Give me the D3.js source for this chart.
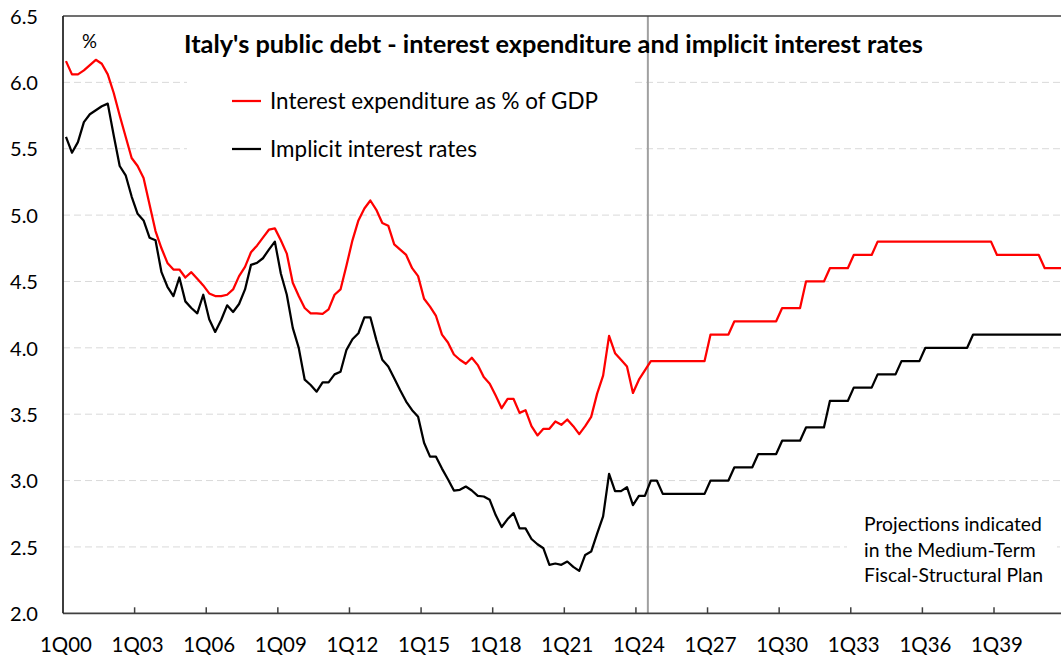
<!DOCTYPE html>
<html><head><meta charset="utf-8">
<script src="https://cdn.jsdelivr.net/npm/d3@7"></script>
<style>body{margin:0;background:#fff} svg{display:block} text{font-family:Lato,'Open Sans',sans-serif;fill:#000}</style>
</head><body><svg id="c" width="1061" height="659"></svg>
<script>
// ---- data ----
const startYear = 2000, endYear = 2041;
const categories = [];
for (let yr = startYear; yr <= endYear; yr++) for (let q = 1; q <= 4; q++) categories.push(q + "Q" + String(yr % 100).padStart(2, "0"));
const tickLabels = ["1Q00","1Q03","1Q06","1Q09","1Q12","1Q15","1Q18","1Q21","1Q24","1Q27","1Q30","1Q33","1Q36","1Q39"];
const yTicks = [2.0,2.5,3.0,3.5,4.0,4.5,5.0,5.5,6.0,6.5];
const projectionStart = "3Q24";
const seriesNames = ["Interest expenditure as % of GDP","Implicit interest rates"];
const interestExpenditure = [
6.16,6.06,6.06,6.09,6.13,6.17,6.14,6.06,5.92,5.75,
5.59,5.43,5.37,5.28,5.08,4.88,4.75,4.64,4.59,4.59,
4.53,4.57,4.52,4.47,4.41,4.39,4.39,4.40,4.44,4.54,
4.61,4.72,4.77,4.83,4.89,4.90,4.81,4.71,4.49,4.39,
4.30,4.26,4.26,4.255,4.29,4.40,4.44,4.62,4.81,4.96,
5.05,5.11,5.04,4.94,4.92,4.78,4.74,4.70,4.60,4.54,
4.37,4.31,4.24,4.10,4.04,3.95,3.91,3.88,3.925,3.87,
3.78,3.73,3.64,3.545,3.615,3.615,3.51,3.53,3.41,3.34,
3.39,3.39,3.445,3.42,3.46,3.41,3.35,3.41,3.48,3.655,
3.79,4.09,3.96,3.91,3.86,3.66,3.76,3.83,3.9,3.9,
3.9,3.9,3.9,3.9,3.9,3.9,3.9,3.9,4.1,4.1,
4.1,4.1,4.2,4.2,4.2,4.2,4.2,4.2,4.2,4.2,
4.3,4.3,4.3,4.3,4.5,4.5,4.5,4.5,4.6,4.6,
4.6,4.6,4.7,4.7,4.7,4.7,4.8,4.8,4.8,4.8,
4.8,4.8,4.8,4.8,4.8,4.8,4.8,4.8,4.8,4.8,
4.8,4.8,4.8,4.8,4.8,4.8,4.7,4.7,4.7,4.7,
4.7,4.7,4.7,4.7,4.6,4.6,4.6,4.6];
const implicitRates = [
5.59,5.47,5.55,5.70,5.76,5.79,5.82,5.84,5.60,5.37,
5.30,5.14,5.01,4.96,4.83,4.81,4.57,4.46,4.39,4.53,
4.35,4.30,4.26,4.40,4.215,4.12,4.21,4.32,4.27,4.33,
4.44,4.625,4.64,4.675,4.74,4.80,4.56,4.40,4.15,4.00,
3.76,3.72,3.67,3.74,3.74,3.80,3.82,3.985,4.065,4.11,
4.23,4.23,4.06,3.91,3.86,3.77,3.68,3.595,3.53,3.48,
3.285,3.18,3.18,3.09,3.01,2.925,2.93,2.955,2.925,2.885,
2.88,2.855,2.74,2.65,2.71,2.755,2.64,2.64,2.56,2.52,
2.49,2.365,2.375,2.365,2.39,2.35,2.32,2.44,2.465,2.60,
2.73,3.05,2.92,2.92,2.95,2.815,2.885,2.885,3.0,3.0,
2.9,2.9,2.9,2.9,2.9,2.9,2.9,2.9,3.0,3.0,
3.0,3.0,3.1,3.1,3.1,3.1,3.2,3.2,3.2,3.2,
3.3,3.3,3.3,3.3,3.4,3.4,3.4,3.4,3.6,3.6,
3.6,3.6,3.7,3.7,3.7,3.7,3.8,3.8,3.8,3.8,
3.9,3.9,3.9,3.9,4.0,4.0,4.0,4.0,4.0,4.0,
4.0,4.0,4.1,4.1,4.1,4.1,4.1,4.1,4.1,4.1,
4.1,4.1,4.1,4.1,4.1,4.1,4.1,4.1];

// ---- layout ----
const W = 1061, H = 659;
const m = {left: 63, top: 16, bottom: 613.3};
const step = 5.968;
const x = d3.scaleBand().domain(categories).range([m.left, m.left + categories.length * step]).padding(0);
const y = d3.scaleLinear().domain([2, 6.5]).range([m.bottom, m.top]);
const cx = c => x(c) + x.bandwidth() / 2;
const svg = d3.select("#c");

function fit(sel, target) {
  const w = sel.node().getComputedTextLength();
  const fs = parseFloat(sel.attr("font-size"));
  const nfs = fs * target / w;
  sel.attr("font-size", nfs);
  return nfs;
}

// gridlines
svg.append("g").selectAll("line").data(yTicks.filter(v => v > 2 && v < 6.5)).join("line")
  .attr("x1", m.left).attr("x2", W).attr("y1", d => y(d)).attr("y2", d => y(d))
  .attr("stroke", "#d9d9d9").attr("stroke-width", 1).attr("stroke-dasharray", "7,4");

// white text-box backgrounds
svg.append("rect").attr("x", 187).attr("y", 66).attr("width", 446).attr("height", 104).attr("fill", "#fff");
svg.append("rect").attr("x", 847).attr("y", 505).attr("width", 210).attr("height", 95).attr("fill", "#fff");

// projection divider
svg.append("line").attr("x1", x(projectionStart)).attr("x2", x(projectionStart))
  .attr("y1", m.top).attr("y2", m.bottom).attr("stroke", "#a0a0a0").attr("stroke-width", 2);

// axes frame
svg.append("line").attr("x1", m.left).attr("x2", W).attr("y1", m.top).attr("y2", m.top).attr("stroke", "#404040").attr("stroke-width", 1.5);
svg.append("line").attr("x1", m.left).attr("x2", W).attr("y1", m.bottom).attr("y2", m.bottom).attr("stroke", "#404040").attr("stroke-width", 1.75);
svg.append("line").attr("x1", m.left).attr("x2", m.left).attr("y1", m.top).attr("y2", m.bottom).attr("stroke", "#222").attr("stroke-width", 1.75);

// x ticks at category boundaries
svg.append("g").selectAll("line").data(tickLabels.slice(1)).join("line")
  .attr("x1", d => x(d)).attr("x2", d => x(d)).attr("y1", m.bottom).attr("y2", m.bottom - 6)
  .attr("stroke", "#404040").attr("stroke-width", 1.5);

// x axis labels via d3 axis
const xAxis = d3.axisBottom(x).tickValues(tickLabels).tickSize(0).tickPadding(0);
const gx = svg.append("g").attr("transform", `translate(0,${m.bottom})`).call(xAxis);
gx.select(".domain").remove();
const probe = svg.append("text").attr("font-size", 20).text("1Q00");
const axFs = fit(probe, 52);
probe.remove();
gx.selectAll("text").attr("font-size", axFs).attr("font-family", "Lato").attr("fill", "#000").attr("dy", null).attr("y", 39);

const yAxis = d3.axisLeft(y).tickValues(yTicks).tickSize(0).tickPadding(0).tickFormat(d3.format(".1f"));
const gy = svg.append("g").attr("transform", `translate(38,0)`).call(yAxis);
gy.select(".domain").remove();
const probe2 = svg.append("text").attr("font-size", 20).text("6.5");
const yFs = fit(probe2, 28);
probe2.remove();
gy.selectAll("text").attr("font-size", yFs).attr("font-family", "Lato").attr("fill", "#000").attr("dy", "0.36em");

// series
const line = d3.line().x((d, i) => cx(categories[i])).y(d => y(d));
svg.append("path").datum(implicitRates).attr("d", line).attr("fill", "none")
  .attr("stroke", "#000").attr("stroke-width", 2.25).attr("stroke-linejoin", "round");
svg.append("path").datum(interestExpenditure).attr("d", line).attr("fill", "none")
  .attr("stroke", "#ff0000").attr("stroke-width", 2.25).attr("stroke-linejoin", "round");

// title
const title = svg.append("text").attr("x", 184).attr("y", 53).attr("font-size", 22).attr("font-weight", "bold")
  .text("Italy's public debt - interest expenditure and implicit interest rates");
fit(title, 739);
const pct = svg.append("text").attr("x", 82).attr("y", 48).attr("font-size", 19).text("%");
fit(pct, 15);

// legend
const legColors = ["#ff0000", "#000"];
const legY = [101, 149];
seriesNames.forEach((n, i) => {
  svg.append("line").attr("x1", 232).attr("x2", 261).attr("y1", legY[i]).attr("y2", legY[i])
    .attr("stroke", legColors[i]).attr("stroke-width", 2.25);
});
const l1 = svg.append("text").attr("x", 270).attr("y", 108.5).attr("font-size", 20).text(seriesNames[0]);
const lfs = fit(l1, 328);
svg.append("text").attr("x", 270).attr("y", 156.5).attr("font-size", lfs).text(seriesNames[1]);

// annotation
const notes = ["Projections indicated", "in the Medium-Term", "Fiscal-Structural Plan"];
const a0 = svg.append("text").attr("x", 864).attr("y", 531).attr("font-size", 17).text(notes[0]);
const afs = fit(a0, 178);
notes.slice(1).forEach((t, i) => svg.append("text").attr("x", 864).attr("y", 531 + 25.5 * (i + 1)).attr("font-size", afs).text(t));
</script></body></html>
